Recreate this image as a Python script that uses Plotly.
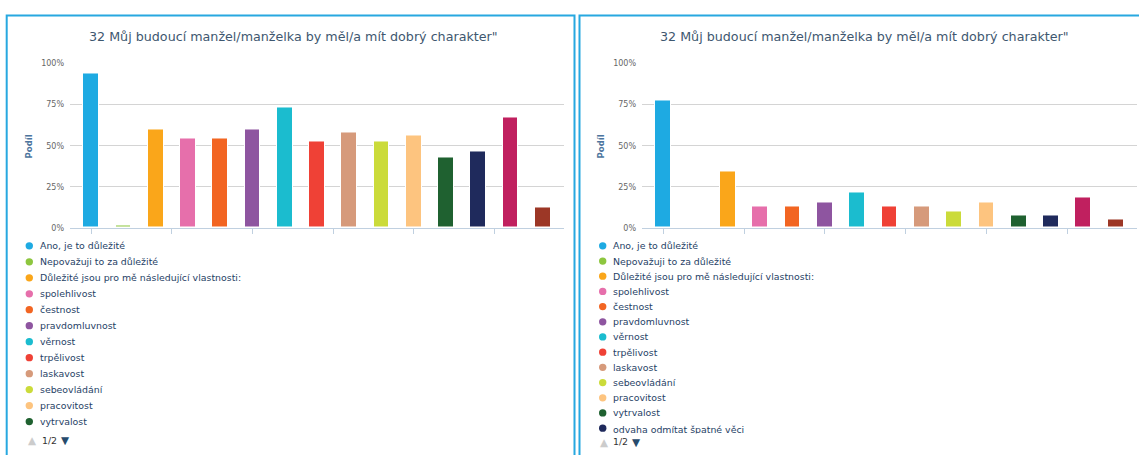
import plotly.graph_objects as go

# ---------------- data ----------------
categories = [
    "Ano, je to důležité",
    "Nepovažuji to za důležité",
    "Důležité jsou pro mě následující vlastnosti:",
    "spolehlivost",
    "čestnost",
    "pravdomluvnost",
    "věrnost",
    "trpělivost",
    "laskavost",
    "sebeovládání",
    "pracovitost",
    "vytrvalost",
    "odvaha odmítat špatné věci",
    "ohleduplnost",
    "jiné",
]
values_left = [93.8, 1.6, 59.8, 54.5, 54.5, 59.8, 73.4, 52.5, 57.9, 52.5, 56.3, 42.9, 46.5, 67.4, 12.7]
values_right = [77.6, 0.0, 34.3, 13.1, 13.1, 15.7, 21.4, 13.1, 13.1, 10.3, 15.7, 7.7, 7.7, 18.5, 5.0]
colors = [
    "#1eaae2", "#8dc63f", "#faa61a", "#e66fab", "#f26522", "#8e55a0", "#1bbccf",
    "#ef4136", "#d69a7b", "#cbdb3a", "#fdc47f", "#1f6130", "#1f2a5c", "#c0205f", "#9c3726",
]
y_ticks = [0, 25, 50, 75, 100]
y_tick_labels = ["0%", "25%", "50%", "75%", "100%"]
x_tick_positions = [0, 2.5, 5, 7.5, 10, 12.5]
chart_title = '32 Můj budoucí manžel/manželka by měl/a mít dobrý charakter"'
axis_title = "Podíl"
pager_text = "1/2"

# ---------------- layout helpers ----------------
W, H = 1139, 455
FONT = "DejaVu Sans"


def px(x):
    return x / W


def py(y):
    return 1 - y / H


fig = go.Figure()
xs = list(range(len(categories)))

panels = [
    dict(values=values_left, xa="x", ya="y", plot_x=(70, 564), offset=0,
         border=(6.7, 574.5),
         n_leg=12, leg_step=16.3, leg_dot=29.3, leg_text=39.3, pager_y=445,
         pager=(32, 49, 65), title_x=293),
    dict(values=values_right, xa="x2", ya="y2", plot_x=(642, 1137), offset=572,
         border=(579.5, 1180),
         n_leg=13, leg_step=15.5, leg_dot=602.7, leg_text=611.7, pager_y=446.7,
         pager=(604, 620, 636.7), title_x=864),
]

shapes = []
annotations = []

for k, p in enumerate(panels):
    fig.add_trace(go.Bar(
        x=xs, y=p["values"], width=0.49,
        marker=dict(color=colors, line=dict(color="white", width=1)),
        xaxis=p["xa"], yaxis=p["ya"], showlegend=False,
        hovertext=categories, hoverinfo="text+y",
    ))
    sfx = "" if k == 0 else "2"
    fig.update_layout(**{
        "xaxis" + sfx: dict(
            domain=[px(p["plot_x"][0]), px(p["plot_x"][1])],
            range=[-0.66, len(categories) - 1 + 0.66],
            tickvals=x_tick_positions, ticks="outside", ticklen=5,
            tickcolor="#c0d0e0", tickwidth=1, showticklabels=False,
            showgrid=False, zeroline=False, showline=True,
            linecolor="#c0d0e0", linewidth=1,
            anchor="y" + sfx, fixedrange=True,
        ),
        "yaxis" + sfx: dict(
            domain=[py(228.5), py(60.7)], range=[0, 100],
            tickvals=y_ticks, ticktext=y_tick_labels,
            tickfont=dict(family=FONT, size=8, color="#666666"),
            showgrid=True, gridcolor="#d4d4d4", gridwidth=1,
            zeroline=False, showline=False, ticks="",
            ticklabelstandoff=5,
            anchor="x" + sfx, fixedrange=True,
        ),
    })

    # panel border
    x0, x1 = p["border"]
    shapes.append(dict(type="rect", xref="paper", yref="paper",
                       x0=px(x0), x1=px(x1), y0=py(480), y1=py(11.7),
                       line=dict(color="#27a8e0", width=2), fillcolor="rgba(0,0,0,0)",
                       layer="above"))

    # title
    annotations.append(dict(text=chart_title, xref="paper", yref="paper",
                            x=px(p["title_x"]), y=py(33), xanchor="center", yanchor="middle",
                            showarrow=False,
                            font=dict(family=FONT, size=12.7, color="#3e576f")))
    # y axis title
    annotations.append(dict(text="<b>" + axis_title + "</b>", xref="paper", yref="paper",
                            x=px(29.3 + p["offset"]), y=py(145), xanchor="center",
                            yanchor="middle", textangle=-90, showarrow=False,
                            font=dict(family=FONT, size=8.5, color="#4d759e")))

    # legend
    for i in range(p["n_leg"]):
        yc = 246.7 + i * p["leg_step"]
        r = 3.7
        shapes.append(dict(type="circle", xref="paper", yref="paper",
                           x0=px(p["leg_dot"] - r), x1=px(p["leg_dot"] + r),
                           y0=py(yc + r), y1=py(yc - r),
                           fillcolor=colors[i], line=dict(width=0)))
        ann = dict(text=categories[i], xref="paper", yref="paper",
                   x=px(p["leg_text"] - 1), y=py(yc), xanchor="left", yanchor="middle",
                   showarrow=False, align="left",
                   font=dict(family=FONT, size=9.4, color="#1f4266"))
        if k == 1 and i == p["n_leg"] - 1:
            ann.update(yanchor="top", y=py(yc - 6.5), height=9.5, valign="top")
        annotations.append(ann)

    # pager
    ux, tx, dx = p["pager"]
    annotations.append(dict(text="▲", xref="paper", yref="paper", x=px(ux), y=py(p["pager_y"]),
                            xanchor="center", yanchor="middle", showarrow=False,
                            font=dict(family=FONT, size=10.5, color="#cccccc")))
    annotations.append(dict(text=pager_text, xref="paper", yref="paper", x=px(tx), y=py(p["pager_y"]),
                            xanchor="center", yanchor="middle", showarrow=False,
                            font=dict(family=FONT, size=9.4, color="#333333")))
    annotations.append(dict(text="▼", xref="paper", yref="paper", x=px(dx), y=py(p["pager_y"]),
                            xanchor="center", yanchor="middle", showarrow=False,
                            font=dict(family=FONT, size=10.5, color="#274b6d")))

fig.update_layout(
    width=W, height=H,
    margin=dict(l=0, r=0, t=0, b=0),
    paper_bgcolor="white", plot_bgcolor="white",
    showlegend=False, bargap=0,
    shapes=shapes, annotations=annotations,
    font=dict(family=FONT),
)

fig.write_html(
    "out.html",
    config={"displayModeBar": False},
    post_script="document.body.style.margin='0';document.body.style.overflow='hidden';",
)
